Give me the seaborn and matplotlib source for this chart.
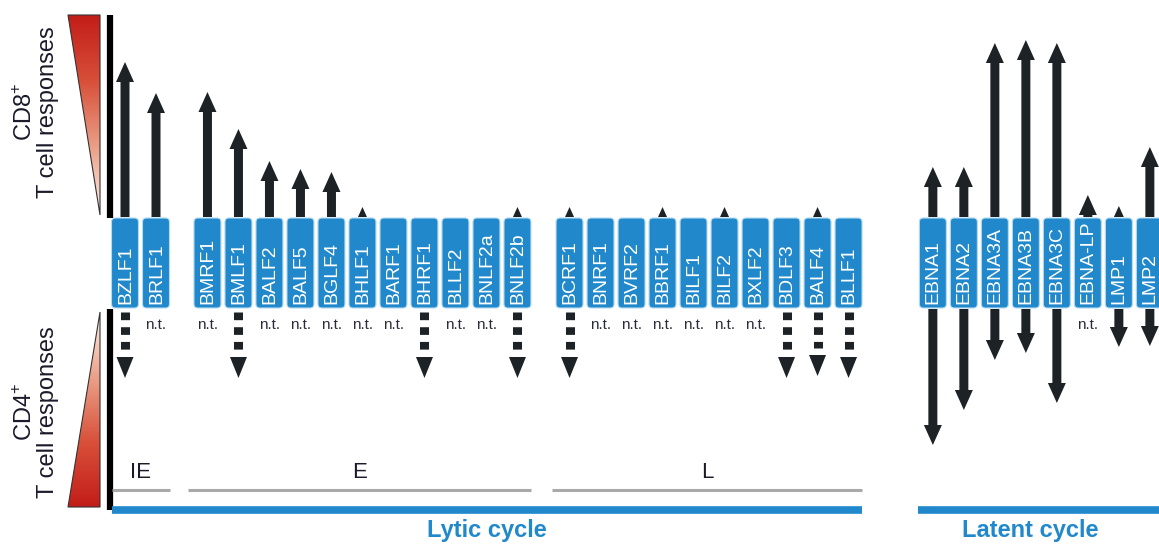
import numpy as np
import matplotlib
matplotlib.use("Agg")
import matplotlib.pyplot as plt
import seaborn as sns
from matplotlib.patches import FancyBboxPatch, Polygon

# EBV antigens, grouped by expression phase
ie_genes = ["BZLF1", "BRLF1"]
e_genes = ["BMRF1", "BMLF1", "BALF2", "BALF5", "BGLF4", "BHLF1", "BARF1",
           "BHRF1", "BLLF2", "BNLF2a", "BNLF2b"]
l_genes = ["BCRF1", "BNRF1", "BVRF2", "BBRF1", "BILF1", "BILF2", "BXLF2",
           "BDLF3", "BALF4", "BLLF1"]
latent_genes = ["EBNA1", "EBNA2", "EBNA3A", "EBNA3B", "EBNA3C", "EBNA-LP", "LMP1", "LMP2"]

# CD8+ response strength (arrow length up), 0 = no arrow
ie_cd8 = [155, 124]
e_cd8 = [125, 88, 56, 48, 45, 10, 0, 0, 0, 0, 10]
l_cd8 = [10, 0, 0, 10, 0, 10, 0, 0, 10, 0]
latent_cd8 = [50, 50, 174, 177, 174, 22, 11, 70]

# CD4+ response strength (arrow length down), None = not tested
ie_cd4 = [69, None]
e_cd4 = [None, 69, None, None, None, None, None, 69, None, None, 69]
l_cd4 = [69, None, None, None, None, None, None, 69, 67, 69]
latent_cd4 = [136, 101, 51, 44, 94, None, 38, 37]

phase_labels = ["IE", "E", "L"]
cycle_labels = ["Lytic cycle", "Latent cycle"]

BLUE = "#2189cb"
INK = "#1d2226"
GREY = "#a9a9a9"

sns.set_theme(style="white")
plt.rcParams["font.family"] = ["Liberation Sans", "DejaVu Sans"]
plt.rcParams["mathtext.fontset"] = "custom"
plt.rcParams["mathtext.rm"] = "Liberation Sans"

fig = plt.figure(figsize=(11.59, 5.45), dpi=100)
ax = fig.add_axes([0, 0, 1, 1])

# layout (pixel-like units)
X0, SLOT, BOX_W = 125, 31.0, 27
BOX_TOP, BOX_BOT = 218, 308
group_start = [0, 2.66, 14.34, 26.06]
groups = [(ie_genes, ie_cd8, ie_cd4), (e_genes, e_cd8, e_cd4),
          (l_genes, l_cd8, l_cd4), (latent_genes, latent_cd8, latent_cd4)]


def arrow(x, y0, length, direction, sw=9, hw=18, hl=20):
    tip = y0 + direction * length
    if length <= hl:
        w = hw * length / hl
        pts = [(x - w / 2, y0), (x, tip), (x + w / 2, y0)]
    else:
        hb = tip - direction * hl
        pts = [(x - sw / 2, y0), (x - sw / 2, hb), (x - hw / 2, hb), (x, tip),
               (x + hw / 2, hb), (x + sw / 2, hb), (x + sw / 2, y0)]
    ax.add_patch(Polygon(pts, closed=True, fc=INK, ec="none", zorder=3))


def dashed_arrow(x, y0, length, hw=17, hl=21):
    tip = y0 + length
    ax.plot([x, x], [y0 + 3, tip - hl - 7], color=INK, lw=6.5, dashes=(0.85, 0.78),
            dash_capstyle="butt", solid_capstyle="butt", zorder=3)
    ax.add_patch(Polygon([(x - hw / 2, tip - hl), (x, tip), (x + hw / 2, tip - hl)],
                         closed=True, fc=INK, ec="none", zorder=3))


centers = []
for gi, (genes, cd8, cd4) in enumerate(groups):
    xs = [X0 + SLOT * (group_start[gi] + i) for i in range(len(genes))]
    centers.append(xs)
    latent = gi == 3
    for x, g, up, down in zip(xs, genes, cd8, cd4):
        ax.add_patch(FancyBboxPatch((x - BOX_W / 2, BOX_TOP), BOX_W, BOX_BOT - BOX_TOP,
                                    boxstyle="round,pad=0,rounding_size=4",
                                    fc=BLUE, ec="#b5dbf2", lw=0.8, zorder=2))
        ax.text(x + 0.5, BOX_BOT - 4, g, rotation=90, rotation_mode="anchor",
                ha="left", va="center", color="white", fontsize=14, zorder=4)
        if up:
            arrow(x, BOX_TOP - 1, up, -1)
        if down is None:
            ax.text(x, 325, "n.t.", ha="center", va="center", color="#2b2b3a",
                    fontsize=11)
        elif latent:
            arrow(x, BOX_BOT + 1, down, 1)
        else:
            dashed_arrow(x, BOX_BOT + 1, down)

# gradient triangles on the left
cmap8 = sns.blend_palette(["#fdf0ea", "#eba189", "#d8503a", "#c21d18"], as_cmap=True)
grad = np.linspace(0, 1, 256).reshape(-1, 1)
for pts, flip in [([(68, 15), (100, 15), (100, 215)], True),
                  ([(100, 312), (68, 507), (100, 507)], False)]:
    tri = Polygon(pts, closed=True, fc="none", ec="#333333", lw=0.8, zorder=3)
    ax.add_patch(tri)
    ys = [p[1] for p in pts]
    im = ax.imshow(grad[::-1] if flip else grad, extent=(68, 100, max(ys), min(ys)),
                   cmap=cmap8, aspect="auto", origin="upper", zorder=2)
    im.set_clip_path(tri)

ax.plot([109.5, 109.5], [15, 218], color="black", lw=4.5, solid_capstyle="butt")
ax.plot([109.5, 109.5], [309, 510], color="black", lw=4.5, solid_capstyle="butt")

for yc, num in [(112, "8"), (412, "4")]:
    ax.text(36, yc, "CD" + num + r"$^{+}$" + "\nT cell responses", rotation=90,
            ha="center", va="center", multialignment="center", linespacing=1.0,
            fontsize=17, color="#1a1a2a")

# phase brackets
half = BOX_W / 2
phase_spans = [(centers[0][0] - half, centers[0][-1] + half),
               (centers[1][0] - half - 6, centers[1][-1] + half),
               (centers[2][0] - half - 4, centers[2][-1] + half)]
for (a, b), lab in zip(phase_spans, phase_labels):
    ax.plot([a, b], [490, 490], color=GREY, lw=2.2, solid_capstyle="butt")
    ax.text((a + b) / 2, 472, lab, ha="center", va="center", fontsize=16, color="#1a1a2a")

cycle_spans = [(phase_spans[0][0], phase_spans[2][1]), (centers[3][0] - half - 1, 1165)]
for (a, b), lab in zip(cycle_spans, cycle_labels):
    ax.plot([a, b], [510, 510], color=BLUE, lw=5.5, solid_capstyle="butt")
    ax.text((a + min(b, 1159)) / 2 + (0 if b < 1159 else -8), 531, lab, ha="center",
            va="center", fontsize=17, fontweight="bold", color=BLUE)

ax.set_xlim(0, 1159)
ax.set_ylim(545, 0)
ax.axis("off")
fig.savefig("out.png", dpi=100)
